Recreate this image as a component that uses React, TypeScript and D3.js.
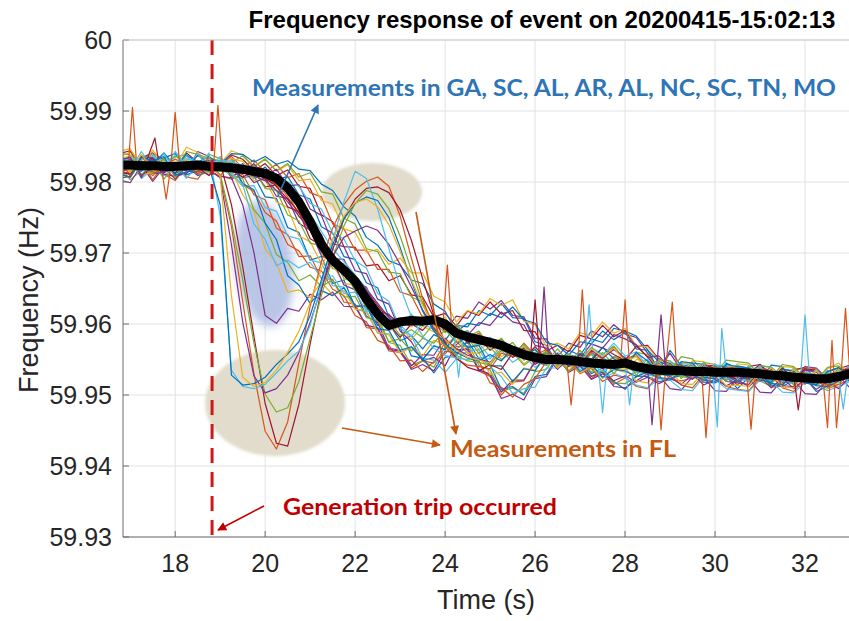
import React from 'react';
import * as d3 from 'd3';

// Sampling instants (s) shared by the per-station traces
const TIME = [
  16.75, 17.0, 17.25, 17.5, 17.75, 18.0, 18.25, 18.5, 18.75, 19.0, 19.25,
  19.5, 19.75, 20.0, 20.25, 20.5, 20.75, 21.0, 21.25, 21.5, 21.75, 22.0,
  22.25, 22.5, 22.75, 23.0, 23.25, 23.5, 23.75, 24.0, 24.25, 24.5, 24.75,
  25.0, 25.25, 25.5, 25.75, 26.0, 26.25, 26.5, 26.75, 27.0, 27.25, 27.5,
  27.75, 28.0, 28.25, 28.5, 28.75, 29.0, 29.25, 29.5, 29.75, 30.0, 30.25,
  30.5, 30.75, 31.0, 31.25, 31.5, 31.75, 32.0, 32.25, 32.5, 32.75, 33.0,
];

// Median frequency across all stations (Hz)
const MEDIAN = [
  59.9824, 59.9824, 59.9823, 59.9823, 59.9822, 59.9822, 59.9823, 59.9824, 59.9822, 59.9821, 59.9820,
  59.9818, 59.9815, 59.9812, 59.9805, 59.9792, 59.9772, 59.9744, 59.9712, 59.9690, 59.9676, 59.9660,
  59.9635, 59.9614, 59.9598, 59.9603, 59.9605, 59.9604, 59.9606, 59.9600, 59.9587, 59.9582, 59.9578,
  59.9574, 59.9570, 59.9563, 59.9557, 59.9553, 59.9550, 59.9550, 59.9549, 59.9547, 59.9545, 59.9544,
  59.9543, 59.9545, 59.9540, 59.9537, 59.9535, 59.9535, 59.9534, 59.9533, 59.9533, 59.9532, 59.9532,
  59.9532, 59.9531, 59.9530, 59.9528, 59.9527, 59.9525, 59.9524, 59.9523, 59.9523, 59.9526, 59.9530,
];

// Stations in GA, SC, AL, AR, NC, TN, MO
const M1 = [
  59.9838, 59.9829, 59.9811, 59.9817, 59.9834, 59.9840, 59.9822, 59.9809, 59.9815, 59.9831, 59.9822,
  59.9806, 59.9809, 59.9779, 59.9777, 59.9736, 59.9729, 59.9690, 59.9695, 59.9657, 59.9662, 59.9624,
  59.9626, 59.9598, 59.9601, 59.9576, 59.9584, 59.9565, 59.9585, 59.9577, 59.9598, 59.9596, 59.9619,
  59.9612, 59.9629, 59.9609, 59.9608, 59.9575, 59.9570, 59.9544, 59.9563, 59.9556, 59.9579, 59.9574,
  59.9594, 59.9590, 59.9583, 59.9564, 59.9534, 59.9563, 59.9541, 59.9543, 59.9522, 59.9524, 59.9545,
  59.9537, 59.9522, 59.9520, 59.9542, 59.9540, 59.9515, 59.9526, 59.9518, 59.9531, 59.9521, 59.9526,
];
const M2 = [
  59.9808, 59.9815, 59.9834, 59.9829, 59.9811, 59.9802, 59.9823, 59.9837, 59.9831, 59.9809, 59.9804,
  59.9811, 59.9782, 59.9775, 59.9735, 59.9726, 59.9695, 59.9696, 59.9664, 59.9663, 59.9631, 59.9628,
  59.9595, 59.9593, 59.9562, 59.9560, 59.9538, 59.9548, 59.9545, 59.9575, 59.9568, 59.9569, 59.9534,
  59.9526, 59.9500, 59.9518, 59.9520, 59.9549, 59.9547, 59.9556, 59.9534, 59.9544, 59.9523, 59.9534,
  59.9515, 59.9524, 59.9533, 59.9543, 59.9541, 59.9522, 59.9520, 59.9524, 59.9545, 59.9532, 59.9526,
  59.9514, 59.9533, 59.9536, 59.9511, 59.9513, 59.9533, 59.9523, 59.9516, 59.9526, 59.9529, 59.9520,
];
const M3 = [
  59.9835, 59.9842, 59.9820, 59.9813, 59.9819, 59.9832, 59.9825, 59.9813, 59.9834, 59.9828, 59.9812,
  59.9822, 59.9802, 59.9803, 59.9772, 59.9764, 59.9724, 59.9716, 59.9685, 59.9684, 59.9657, 59.9655,
  59.9622, 59.9618, 59.9591, 59.9596, 59.9578, 59.9597, 59.9589, 59.9600, 59.9577, 59.9585, 59.9564,
  59.9573, 59.9554, 59.9564, 59.9544, 59.9555, 59.9546, 59.9553, 59.9534, 59.9556, 59.9536, 59.9545,
  59.9538, 59.9536, 59.9546, 59.9533, 59.9543, 59.9547, 59.9529, 59.9531, 59.9537, 59.9543, 59.9528,
  59.9527, 59.9535, 59.9533, 59.9519, 59.9522, 59.9538, 59.9536, 59.9514, 59.9519, 59.9533, 59.9538,
];
const M4 = [
  59.9815, 59.9812, 59.9834, 59.9841, 59.9831, 59.9808, 59.9814, 59.9843, 59.9836, 59.9816, 59.9833,
  59.9812, 59.9824, 59.9802, 59.9808, 59.9784, 59.9778, 59.9741, 59.9726, 59.9692, 59.9691, 59.9660,
  59.9652, 59.9617, 59.9614, 59.9594, 59.9611, 59.9602, 59.9613, 59.9591, 59.9611, 59.9608, 59.9631,
  59.9621, 59.9633, 59.9612, 59.9610, 59.9580, 59.9579, 59.9554, 59.9573, 59.9567, 59.9590, 59.9582,
  59.9599, 59.9586, 59.9581, 59.9559, 59.9536, 59.9559, 59.9535, 59.9543, 59.9532, 59.9541, 59.9540,
  59.9538, 59.9531, 59.9543, 59.9529, 59.9526, 59.9520, 59.9540, 59.9538, 59.9522, 59.9530, 59.9541,
];
const M5 = [
  59.9824, 59.9803, 59.9816, 59.9833, 59.9825, 59.9813, 59.9820, 59.9818, 59.9815, 59.9822, 59.9814,
  59.9823, 59.9805, 59.9810, 59.9787, 59.9787, 59.9751, 59.9738, 59.9699, 59.9695, 59.9664, 59.9659,
  59.9621, 59.9611, 59.9574, 59.9570, 59.9542, 59.9548, 59.9539, 59.9568, 59.9565, 59.9574, 59.9542,
  59.9535, 59.9505, 59.9510, 59.9502, 59.9533, 59.9536, 59.9559, 59.9540, 59.9546, 59.9526, 59.9535,
  59.9517, 59.9516, 59.9525, 59.9536, 59.9535, 59.9528, 59.9526, 59.9523, 59.9533, 59.9530, 59.9521,
  59.9528, 59.9526, 59.9520, 59.9512, 59.9515, 59.9529, 59.9521, 59.9527, 59.9513, 59.9515, 59.9533,
];
const M6 = [
  59.9819, 59.9831, 59.9826, 59.9811, 59.9824, 59.9835, 59.9839, 59.9817, 59.9810, 59.9826, 59.9831,
  59.9814, 59.9821, 59.9803, 59.9809, 59.9782, 59.9773, 59.9732, 59.9720, 59.9687, 59.9685, 59.9653,
  59.9644, 59.9609, 59.9607, 59.9595, 59.9614, 59.9597, 59.9615, 59.9594, 59.9596, 59.9576, 59.9585,
  59.9568, 59.9578, 59.9556, 59.9563, 59.9546, 59.9556, 59.9545, 59.9553, 59.9543, 59.9551, 59.9540,
  59.9548, 59.9546, 59.9539, 59.9528, 59.9526, 59.9545, 59.9544, 59.9524, 59.9523, 59.9542, 59.9541,
  59.9524, 59.9521, 59.9542, 59.9539, 59.9519, 59.9516, 59.9536, 59.9533, 59.9514, 59.9525, 59.9534,
];
const M7 = [
  59.9840, 59.9844, 59.9819, 59.9837, 59.9815, 59.9820, 59.9841, 59.9828, 59.9819, 59.9821, 59.9838,
  59.9832, 59.9816, 59.9826, 59.9809, 59.9817, 59.9794, 59.9791, 59.9754, 59.9744, 59.9709, 59.9708,
  59.9682, 59.9684, 59.9661, 59.9668, 59.9641, 59.9638, 59.9610, 59.9615, 59.9597, 59.9618, 59.9612,
  59.9631, 59.9614, 59.9619, 59.9591, 59.9589, 59.9562, 59.9570, 59.9561, 59.9584, 59.9579, 59.9598,
  59.9582, 59.9591, 59.9568, 59.9570, 59.9551, 59.9544, 59.9532, 59.9533, 59.9542, 59.9541, 59.9532,
  59.9531, 59.9540, 59.9543, 59.9524, 59.9527, 59.9535, 59.9539, 59.9522, 59.9523, 59.9537, 59.9542,
];
const M8 = [
  59.9805, 59.9808, 59.9828, 59.9812, 59.9815, 59.9821, 59.9810, 59.9816, 59.9815, 59.9820, 59.9811,
  59.9826, 59.9809, 59.9821, 59.9803, 59.9808, 59.9782, 59.9776, 59.9737, 59.9728, 59.9695, 59.9691,
  59.9658, 59.9651, 59.9610, 59.9595, 59.9555, 59.9552, 59.9531, 59.9553, 59.9556, 59.9577, 59.9551,
  59.9543, 59.9508, 59.9512, 59.9500, 59.9526, 59.9529, 59.9555, 59.9544, 59.9552, 59.9530, 59.9538,
  59.9519, 59.9508, 59.9527, 59.9526, 59.9519, 59.9521, 59.9529, 59.9528, 59.9518, 59.9517, 59.9526,
  59.9509, 59.9525, 59.9528, 59.9514, 59.9512, 59.9521, 59.9524, 59.9505, 59.9512, 59.9520, 59.9529,
];
const M9 = [
  59.9827, 59.9830, 59.9822, 59.9809, 59.9824, 59.9832, 59.9826, 59.9817, 59.9819, 59.9825, 59.9836,
  59.9820, 59.9831, 59.9814, 59.9825, 59.9806, 59.9812, 59.9785, 59.9779, 59.9741, 59.9734, 59.9704,
  59.9704, 59.9677, 59.9677, 59.9645, 59.9640, 59.9609, 59.9611, 59.9590, 59.9598, 59.9579, 59.9587,
  59.9570, 59.9579, 59.9559, 59.9567, 59.9550, 59.9559, 59.9548, 59.9556, 59.9542, 59.9560, 59.9543,
  59.9553, 59.9549, 59.9542, 59.9538, 59.9546, 59.9543, 59.9535, 59.9533, 59.9541, 59.9540, 59.9531,
  59.9529, 59.9527, 59.9538, 59.9535, 59.9521, 59.9523, 59.9539, 59.9537, 59.9517, 59.9522, 59.9535,
];
const M10 = [
  59.9843, 59.9847, 59.9821, 59.9845, 59.9824, 59.9822, 59.9849, 59.9842, 59.9823, 59.9826, 59.9844,
  59.9838, 59.9822, 59.9833, 59.9815, 59.9824, 59.9802, 59.9804, 59.9774, 59.9769, 59.9734, 59.9729,
  59.9701, 59.9705, 59.9684, 59.9693, 59.9672, 59.9672, 59.9639, 59.9631, 59.9603, 59.9619, 59.9614,
  59.9636, 59.9626, 59.9634, 59.9604, 59.9599, 59.9568, 59.9573, 59.9565, 59.9588, 59.9583, 59.9603,
  59.9587, 59.9594, 59.9569, 59.9568, 59.9549, 59.9542, 59.9530, 59.9548, 59.9547, 59.9528, 59.9526,
  59.9544, 59.9542, 59.9523, 59.9522, 59.9540, 59.9539, 59.9520, 59.9519, 59.9537, 59.9545, 59.9528,
];
const M11 = [
  59.9803, 59.9799, 59.9824, 59.9801, 59.9821, 59.9804, 59.9823, 59.9812, 59.9816, 59.9808, 59.9806,
  59.9818, 59.9799, 59.9806, 59.9780, 59.9777, 59.9742, 59.9732, 59.9696, 59.9690, 59.9655, 59.9648,
  59.9611, 59.9602, 59.9566, 59.9563, 59.9536, 59.9543, 59.9534, 59.9562, 59.9559, 59.9567, 59.9536,
  59.9528, 59.9495, 59.9501, 59.9493, 59.9523, 59.9526, 59.9552, 59.9541, 59.9548, 59.9526, 59.9532,
  59.9512, 59.9510, 59.9520, 59.9530, 59.9528, 59.9509, 59.9507, 59.9526, 59.9525, 59.9506, 59.9505,
  59.9524, 59.9523, 59.9504, 59.9503, 59.9522, 59.9521, 59.9502, 59.9501, 59.9520, 59.9527, 59.9510,
];
const M12 = [
  59.9837, 59.9832, 59.9830, 59.9821, 59.9840, 59.9817, 59.9843, 59.9839, 59.9833, 59.9830, 59.9827,
  59.9837, 59.9821, 59.9832, 59.9816, 59.9826, 59.9807, 59.9813, 59.9786, 59.9783, 59.9749, 59.9741,
  59.9706, 59.9702, 59.9673, 59.9671, 59.9638, 59.9631, 59.9599, 59.9603, 59.9582, 59.9591, 59.9571,
  59.9581, 59.9563, 59.9574, 59.9554, 59.9565, 59.9547, 59.9565, 59.9545, 59.9563, 59.9543, 59.9560,
  59.9542, 59.9539, 59.9560, 59.9557, 59.9536, 59.9533, 59.9554, 59.9551, 59.9531, 59.9530, 59.9549,
  59.9547, 59.9545, 59.9528, 59.9525, 59.9543, 59.9540, 59.9523, 59.9521, 59.9539, 59.9541, 59.9529,
];
const M13 = [
  59.9826, 59.9831, 59.9805, 59.9818, 59.9809, 59.9821, 59.9815, 59.9819, 59.9813, 59.9817, 59.9811,
  59.9794, 59.9795, 59.9764, 59.9759, 59.9724, 59.9720, 59.9690, 59.9686, 59.9654, 59.9652, 59.9621,
  59.9617, 59.9587, 59.9586, 59.9561, 59.9567, 59.9550, 59.9570, 59.9564, 59.9583, 59.9566, 59.9573,
  59.9553, 59.9563, 59.9546, 59.9556, 59.9539, 59.9549, 59.9538, 59.9546, 59.9536, 59.9544, 59.9533,
  59.9542, 59.9540, 59.9532, 59.9530, 59.9537, 59.9535, 59.9527, 59.9525, 59.9539, 59.9532, 59.9523,
  59.9522, 59.9520, 59.9530, 59.9534, 59.9518, 59.9516, 59.9532, 59.9529, 59.9515, 59.9521, 59.9532,
];
const M14 = [
  59.9831, 59.9834, 59.9808, 59.9820, 59.9814, 59.9827, 59.9819, 59.9822, 59.9821, 59.9824, 59.9816,
  59.9807, 59.9815, 59.9793, 59.9796, 59.9765, 59.9758, 59.9720, 59.9711, 59.9682, 59.9682, 59.9650,
  59.9640, 59.9604, 59.9600, 59.9581, 59.9600, 59.9591, 59.9608, 59.9590, 59.9594, 59.9573, 59.9581,
  59.9563, 59.9573, 59.9553, 59.9561, 59.9543, 59.9554, 59.9542, 59.9550, 59.9540, 59.9548, 59.9537,
  59.9546, 59.9544, 59.9536, 59.9533, 59.9541, 59.9539, 59.9531, 59.9528, 59.9536, 59.9535, 59.9526,
  59.9525, 59.9523, 59.9533, 59.9531, 59.9521, 59.9519, 59.9535, 59.9533, 59.9517, 59.9524, 59.9535,
];
const M15 = [
  59.9829, 59.9818, 59.9836, 59.9825, 59.9841, 59.9822, 59.9838, 59.9828, 59.9836, 59.9825, 59.9840,
  59.9839, 59.9828, 59.9836, 59.9825, 59.9830, 59.9818, 59.9816, 59.9797, 59.9788, 59.9765, 59.9752,
  59.9722, 59.9711, 59.9689, 59.9683, 59.9662, 59.9657, 59.9628, 59.9618, 59.9589, 59.9601, 59.9598,
  59.9615, 59.9609, 59.9624, 59.9606, 59.9601, 59.9574, 59.9570, 59.9556, 59.9575, 59.9572, 59.9590,
  59.9578, 59.9588, 59.9565, 59.9563, 59.9547, 59.9541, 59.9529, 59.9545, 59.9543, 59.9527, 59.9525,
  59.9541, 59.9538, 59.9524, 59.9521, 59.9536, 59.9534, 59.9518, 59.9516, 59.9532, 59.9538, 59.9524,
];
const M16 = [
  59.9811, 59.9806, 59.9830, 59.9803, 59.9826, 59.9828, 59.9807, 59.9804, 59.9825, 59.9809, 59.9827,
  59.9796, 59.9787, 59.9757, 59.9745, 59.9712, 59.9703, 59.9680, 59.9675, 59.9649, 59.9640, 59.9612,
  59.9603, 59.9577, 59.9570, 59.9548, 59.9549, 59.9533, 59.9547, 59.9558, 59.9576, 59.9559, 59.9548,
  59.9517, 59.9511, 59.9497, 59.9515, 59.9523, 59.9547, 59.9542, 59.9548, 59.9530, 59.9538, 59.9519,
  59.9528, 59.9525, 59.9512, 59.9509, 59.9530, 59.9527, 59.9514, 59.9510, 59.9529, 59.9526, 59.9512,
  59.9508, 59.9506, 59.9524, 59.9527, 59.9510, 59.9505, 59.9523, 59.9521, 59.9509, 59.9515, 59.9522,
];
const M17 = [
  59.9822, 59.9815, 59.9837, 59.9811, 59.9830, 59.9816, 59.9834, 59.9814, 59.9829, 59.9818, 59.9833,
  59.9829, 59.9810, 59.9818, 59.9793, 59.9792, 59.9760, 59.9748, 59.9709, 59.9701, 59.9672, 59.9668,
  59.9629, 59.9620, 59.9592, 59.9609, 59.9596, 59.9612, 59.9594, 59.9610, 59.9581, 59.9590, 59.9569,
  59.9580, 59.9561, 59.9569, 59.9549, 59.9560, 59.9542, 59.9557, 59.9540, 59.9555, 59.9538, 59.9552,
  59.9536, 59.9532, 59.9550, 59.9548, 59.9529, 59.9527, 59.9545, 59.9543, 59.9525, 59.9523, 59.9541,
  59.9539, 59.9537, 59.9521, 59.9519, 59.9535, 59.9530, 59.9517, 59.9515, 59.9529, 59.9534, 59.9518,
];
const M18 = [
  59.9813, 59.9820, 59.9826, 59.9832, 59.9811, 59.9808, 59.9812, 59.9827, 59.9830, 59.9825, 59.9809,
  59.9813, 59.9826, 59.9808, 59.9818, 59.9795, 59.9796, 59.9762, 59.9753, 59.9713, 59.9709, 59.9675,
  59.9671, 59.9635, 59.9628, 59.9590, 59.9575, 59.9548, 59.9553, 59.9541, 59.9571, 59.9584, 59.9602,
  59.9598, 59.9617, 59.9603, 59.9599, 59.9570, 59.9566, 59.9545, 59.9557, 59.9552, 59.9572, 59.9566,
  59.9585, 59.9579, 59.9571, 59.9553, 59.9555, 59.9538, 59.9531, 59.9522, 59.9537, 59.9534, 59.9519,
  59.9517, 59.9515, 59.9535, 59.9533, 59.9513, 59.9512, 59.9530, 59.9528, 59.9510, 59.9519, 59.9526,
];
const M19 = [
  59.9841, 59.9838, 59.9826, 59.9840, 59.9823, 59.9837, 59.9825, 59.9822, 59.9839, 59.9833, 59.9823,
  59.9815, 59.9818, 59.9791, 59.9788, 59.9754, 59.9745, 59.9714, 59.9710, 59.9678, 59.9676, 59.9646,
  59.9638, 59.9612, 59.9606, 59.9584, 59.9592, 59.9581, 59.9601, 59.9588, 59.9600, 59.9582, 59.9590,
  59.9568, 59.9580, 59.9561, 59.9570, 59.9551, 59.9562, 59.9548, 59.9558, 59.9546, 59.9557, 59.9543,
  59.9554, 59.9552, 59.9541, 59.9539, 59.9550, 59.9548, 59.9536, 59.9533, 59.9546, 59.9543, 59.9531,
  59.9530, 59.9528, 59.9541, 59.9539, 59.9526, 59.9524, 59.9537, 59.9535, 59.9522, 59.9527, 59.9533,
];
const M20 = [
  59.9818, 59.9828, 59.9811, 59.9822, 59.9817, 59.9825, 59.9805, 59.9823, 59.9810, 59.9829, 59.9812,
  59.9822, 59.9818, 59.9816, 59.9811, 59.9800, 59.9794, 59.9770, 59.9762, 59.9728, 59.9720, 59.9689,
  59.9679, 59.9643, 59.9632, 59.9594, 59.9583, 59.9552, 59.9549, 59.9532, 59.9551, 59.9562, 59.9564,
  59.9540, 59.9526, 59.9502, 59.9509, 59.9511, 59.9538, 59.9538, 59.9556, 59.9539, 59.9544, 59.9524,
  59.9531, 59.9524, 59.9514, 59.9510, 59.9523, 59.9521, 59.9508, 59.9506, 59.9526, 59.9522, 59.9509,
  59.9507, 59.9505, 59.9521, 59.9519, 59.9504, 59.9503, 59.9518, 59.9516, 59.9506, 59.9512, 59.9519,
];

// Stations with an early, shallow dip right after the trip
const B1 = [
  59.9811, 59.9833, 59.9806, 59.9836, 59.9813, 59.9822, 59.9820, 59.9826, 59.9817, 59.9829, 59.9806,
  59.9768, 59.9701, 59.9612, 59.9601, 59.9622, 59.9618, 59.9642, 59.9634, 59.9645, 59.9625, 59.9624,
  59.9598, 59.9595, 59.9564, 59.9562, 59.9541, 59.9557, 59.9556, 59.9580, 59.9564, 59.9564, 59.9535,
  59.9530, 59.9504, 59.9521, 59.9521, 59.9547, 59.9542, 59.9552, 59.9532, 59.9541, 59.9522, 59.9530,
  59.9520, 59.9527, 59.9518, 59.9525, 59.9516, 59.9524, 59.9515, 59.9529, 59.9514, 59.9522, 59.9513,
  59.9521, 59.9512, 59.9526, 59.9510, 59.9524, 59.9509, 59.9523, 59.9508, 59.9518, 59.9509, 59.9526,
];
const B2 = [
  59.9832, 59.9837, 59.9810, 59.9814, 59.9821, 59.9825, 59.9819, 59.9816, 59.9813, 59.9823, 59.9817,
  59.9782, 59.9759, 59.9706, 59.9686, 59.9645, 59.9648, 59.9637, 59.9659, 59.9641, 59.9647, 59.9621,
  59.9619, 59.9588, 59.9585, 59.9559, 59.9567, 59.9555, 59.9577, 59.9571, 59.9582, 59.9559, 59.9559,
  59.9529, 59.9532, 59.9515, 59.9538, 59.9535, 59.9558, 59.9541, 59.9550, 59.9531, 59.9540, 59.9523,
  59.9540, 59.9538, 59.9520, 59.9517, 59.9536, 59.9535, 59.9516, 59.9515, 59.9533, 59.9532, 59.9513,
  59.9514, 59.9512, 59.9533, 59.9531, 59.9511, 59.9510, 59.9530, 59.9528, 59.9509, 59.9518, 59.9529,
];
const B3 = [
  59.9806, 59.9828, 59.9809, 59.9831, 59.9804, 59.9826, 59.9818, 59.9821, 59.9814, 59.9824, 59.9808,
  59.9805, 59.9761, 59.9742, 59.9698, 59.9687, 59.9661, 59.9669, 59.9653, 59.9662, 59.9638, 59.9639,
  59.9609, 59.9605, 59.9575, 59.9579, 59.9562, 59.9580, 59.9573, 59.9592, 59.9574, 59.9581, 59.9559,
  59.9567, 59.9550, 59.9560, 59.9542, 59.9553, 59.9542, 59.9551, 59.9533, 59.9552, 59.9532, 59.9549,
  59.9530, 59.9548, 59.9528, 59.9546, 59.9525, 59.9543, 59.9523, 59.9541, 59.9521, 59.9539, 59.9520,
  59.9538, 59.9518, 59.9536, 59.9516, 59.9534, 59.9514, 59.9532, 59.9513, 59.9531, 59.9520, 59.9537,
];
const B4 = [
  59.9836, 59.9824, 59.9815, 59.9831, 59.9823, 59.9812, 59.9819, 59.9838, 59.9825, 59.9818, 59.9828,
  59.9798, 59.9789, 59.9742, 59.9719, 59.9668, 59.9655, 59.9629, 59.9647, 59.9640, 59.9651, 59.9626,
  59.9625, 59.9593, 59.9591, 59.9563, 59.9568, 59.9550, 59.9569, 59.9564, 59.9585, 59.9567, 59.9570,
  59.9541, 59.9541, 59.9519, 59.9537, 59.9534, 59.9559, 59.9543, 59.9552, 59.9533, 59.9543, 59.9525,
  59.9536, 59.9534, 59.9526, 59.9532, 59.9524, 59.9523, 59.9531, 59.9529, 59.9521, 59.9519, 59.9528,
  59.9518, 59.9530, 59.9528, 59.9516, 59.9515, 59.9527, 59.9524, 59.9513, 59.9512, 59.9530, 59.9519,
];
const B5 = [
  59.9827, 59.9834, 59.9832, 59.9837, 59.9818, 59.9843, 59.9822, 59.9840, 59.9819, 59.9836, 59.9811,
  59.9797, 59.9741, 59.9719, 59.9682, 59.9690, 59.9679, 59.9687, 59.9665, 59.9668, 59.9643, 59.9645,
  59.9618, 59.9619, 59.9593, 59.9599, 59.9583, 59.9601, 59.9592, 59.9605, 59.9583, 59.9590, 59.9571,
  59.9581, 59.9562, 59.9569, 59.9549, 59.9560, 59.9543, 59.9560, 59.9541, 59.9558, 59.9538, 59.9555,
  59.9536, 59.9554, 59.9533, 59.9551, 59.9530, 59.9548, 59.9528, 59.9546, 59.9526, 59.9544, 59.9525,
  59.9542, 59.9523, 59.9540, 59.9520, 59.9538, 59.9519, 59.9536, 59.9517, 59.9535, 59.9525, 59.9542,
];

// Stations in FL: deep dip, then overshoot
const F1 = [
  59.9833, 59.9808, 59.9838, 59.9812, 59.9819, 59.9821, 59.9829, 59.9810, 59.9836, 59.9808, 59.9738,
  59.9632, 59.9530, 59.9449, 59.9424, 59.9462, 59.9545, 59.9625, 59.9688, 59.9735, 59.9768, 59.9789,
  59.9801, 59.9807, 59.9794, 59.9752, 59.9693, 59.9636, 59.9592, 59.9568, 59.9551, 59.9542, 59.9540,
  59.9537, 59.9559, 59.9554, 59.9573, 59.9556, 59.9564, 59.9543, 59.9553, 59.9542, 59.9560, 59.9551,
  59.9568, 59.9550, 59.9557, 59.9536, 59.9545, 59.9526, 59.9544, 59.9524, 59.9542, 59.9522, 59.9541,
  59.9520, 59.9539, 59.9519, 59.9537, 59.9517, 59.9535, 59.9515, 59.9534, 59.9514, 59.9533, 59.9522,
];
const F2 = [
  59.9814, 59.9811, 59.9837, 59.9833, 59.9821, 59.9813, 59.9830, 59.9820, 59.9809, 59.9827, 59.9768,
  59.9681, 59.9583, 59.9488, 59.9432, 59.9428, 59.9487, 59.9572, 59.9648, 59.9705, 59.9748, 59.9776,
  59.9791, 59.9793, 59.9785, 59.9761, 59.9718, 59.9664, 59.9612, 59.9574, 59.9552, 59.9539, 59.9534,
  59.9543, 59.9536, 59.9559, 59.9552, 59.9568, 59.9550, 59.9558, 59.9540, 59.9557, 59.9548, 59.9567,
  59.9557, 59.9549, 59.9569, 59.9554, 59.9533, 59.9532, 59.9542, 59.9529, 59.9543, 59.9537, 59.9527,
  59.9522, 59.9536, 59.9524, 59.9523, 59.9538, 59.9521, 59.9537, 59.9535, 59.9520, 59.9534, 59.9537,
];
const F3 = [
  59.9823, 59.9817, 59.9818, 59.9813, 59.9834, 59.9806, 59.9826, 59.9818, 59.9819, 59.9811, 59.9745,
  59.9662, 59.9573, 59.9501, 59.9476, 59.9482, 59.9519, 59.9580, 59.9640, 59.9693, 59.9738, 59.9770,
  59.9788, 59.9783, 59.9762, 59.9724, 59.9676, 59.9629, 59.9592, 59.9570, 59.9556, 59.9548, 59.9546,
  59.9542, 59.9563, 59.9556, 59.9572, 59.9553, 59.9560, 59.9540, 59.9557, 59.9548, 59.9567, 59.9557,
  59.9569, 59.9549, 59.9555, 59.9534, 59.9543, 59.9533, 59.9541, 59.9531, 59.9539, 59.9529, 59.9537,
  59.9527, 59.9535, 59.9525, 59.9539, 59.9523, 59.9537, 59.9521, 59.9535, 59.9519, 59.9537, 59.9525,
];
const F4 = [
  59.9830, 59.9835, 59.9809, 59.9822, 59.9814, 59.9819, 59.9825, 59.9824, 59.9817, 59.9806, 59.9712,
  59.9603, 59.9527, 59.9503, 59.9509, 59.9528, 59.9560, 59.9602, 59.9651, 59.9695, 59.9722, 59.9731,
  59.9738, 59.9732, 59.9712, 59.9684, 59.9652, 59.9620, 59.9594, 59.9577, 59.9565, 59.9556, 59.9551,
  59.9546, 59.9565, 59.9555, 59.9566, 59.9546, 59.9554, 59.9536, 59.9553, 59.9544, 59.9563, 59.9552,
  59.9564, 59.9552, 59.9544, 59.9532, 59.9542, 59.9539, 59.9531, 59.9529, 59.9537, 59.9535, 59.9527,
  59.9525, 59.9523, 59.9533, 59.9537, 59.9521, 59.9519, 59.9535, 59.9533, 59.9518, 59.9524, 59.9535,
];
const F5 = [
  59.9839, 59.9817, 59.9843, 59.9820, 59.9840, 59.9815, 59.9837, 59.9819, 59.9841, 59.9752, 59.9535,
  59.9512, 59.9509, 59.9515, 59.9531, 59.9548, 59.9562, 59.9598, 59.9655, 59.9718, 59.9772, 59.9815,
  59.9805, 59.9762, 59.9706, 59.9652, 59.9610, 59.9583, 59.9566, 59.9556, 59.9552, 59.9550, 59.9553,
  59.9551, 59.9570, 59.9559, 59.9569, 59.9549, 59.9557, 59.9539, 59.9556, 59.9547, 59.9566, 59.9556,
  59.9573, 59.9555, 59.9561, 59.9539, 59.9547, 59.9529, 59.9546, 59.9526, 59.9544, 59.9524, 59.9542,
  59.9522, 59.9541, 59.9521, 59.9539, 59.9519, 59.9537, 59.9518, 59.9536, 59.9516, 59.9534, 59.9524,
];
const F6 = [
  59.9812, 59.9807, 59.9835, 59.9830, 59.9836, 59.9810, 59.9814, 59.9819, 59.9822, 59.9768, 59.9528,
  59.9514, 59.9516, 59.9525, 59.9543, 59.9558, 59.9575, 59.9612, 59.9662, 59.9712, 59.9748, 59.9770,
  59.9779, 59.9774, 59.9750, 59.9708, 59.9660, 59.9618, 59.9590, 59.9572, 59.9560, 59.9552, 59.9548,
  59.9557, 59.9548, 59.9567, 59.9554, 59.9564, 59.9544, 59.9553, 59.9541, 59.9559, 59.9550, 59.9567,
  59.9551, 59.9540, 59.9560, 59.9548, 59.9530, 59.9527, 59.9547, 59.9545, 59.9525, 59.9523, 59.9543,
  59.9540, 59.9538, 59.9521, 59.9518, 59.9536, 59.9534, 59.9517, 59.9514, 59.9533, 59.9539, 59.9522,
];
const F7 = [
  59.9834, 59.9813, 59.9839, 59.9817, 59.9825, 59.9823, 59.9830, 59.9822, 59.9826, 59.9808, 59.9640,
  59.9525, 59.9512, 59.9518, 59.9535, 59.9560, 59.9590, 59.9630, 59.9678, 59.9720, 59.9752, 59.9771,
  59.9776, 59.9765, 59.9740, 59.9702, 59.9662, 59.9626, 59.9598, 59.9578, 59.9563, 59.9553, 59.9549,
  59.9545, 59.9565, 59.9556, 59.9569, 59.9549, 59.9557, 59.9538, 59.9555, 59.9546, 59.9565, 59.9554,
  59.9566, 59.9547, 59.9554, 59.9534, 59.9543, 59.9532, 59.9540, 59.9530, 59.9538, 59.9528, 59.9536,
  59.9526, 59.9534, 59.9524, 59.9538, 59.9522, 59.9536, 59.9520, 59.9534, 59.9519, 59.9536, 59.9524,
];

// Noisy stations with their own (irregular) timestamps: [time s, frequency Hz]
const NOISY_A: [number, number][] = [
  [16.75, 59.9822], [16.95, 59.9816], [17.05, 59.9905], [17.15, 59.9819], [17.45, 59.9827],
  [17.7, 59.9818], [17.8, 59.9776], [17.9, 59.9821], [18.0, 59.9898], [18.1, 59.9823],
  [18.4, 59.9816], [18.7, 59.9825], [18.85, 59.9819], [18.95, 59.9908], [19.05, 59.9822],
  [19.35, 59.9816], [19.7, 59.9813], [20.0, 59.9808], [20.4, 59.9788], [20.8, 59.9752],
  [21.2, 59.9712], [21.6, 59.9684], [22.0, 59.9662], [22.4, 59.9628], [22.8, 59.9600],
  [23.2, 59.9603], [23.6, 59.9600], [23.95, 59.9597], [24.05, 59.9683], [24.15, 59.9592],
  [24.5, 59.9582], [25.0, 59.9571], [25.5, 59.9560], [26.0, 59.9553], [26.4, 59.9549],
  [26.7, 59.9551], [26.8, 59.9486], [26.9, 59.9549], [26.95, 59.9547], [27.05, 59.9648],
  [27.15, 59.9546], [27.5, 59.9544], [27.9, 59.9546], [28.0, 59.9634], [28.1, 59.9543],
  [28.4, 59.9539], [28.7, 59.9537], [28.8, 59.9451], [28.9, 59.9536], [29.05, 59.9631],
  [29.15, 59.9534], [29.45, 59.9533], [29.7, 59.9533], [29.8, 59.9440], [29.9, 59.9532],
  [30.3, 59.9532], [30.7, 59.9531], [30.8, 59.9452], [30.9, 59.9530], [31.5, 59.9527],
  [32.0, 59.9524], [32.4, 59.9523], [32.5, 59.9454], [32.6, 59.9577], [32.7, 59.9454],
  [32.8, 59.9526], [32.9, 59.9622], [33.0, 59.9527],
];
const NOISY_B: [number, number][] = [
  [16.75, 59.9833], [17.1, 59.9828], [17.5, 59.9836], [17.9, 59.9826], [18.3, 59.9832],
  [18.7, 59.9827], [19.1, 59.9830], [19.5, 59.9824], [19.9, 59.9818], [20.3, 59.9806],
  [20.7, 59.9784], [21.1, 59.9745], [21.5, 59.9706], [21.9, 59.9677], [22.3, 59.9646],
  [22.7, 59.9612], [23.1, 59.9600], [23.5, 59.9604], [23.9, 59.9601], [24.2, 59.9584],
  [24.3, 59.9525], [24.4, 59.9581], [24.8, 59.9575], [25.3, 59.9568], [25.8, 59.9557],
  [26.3, 59.9551], [26.8, 59.9549], [27.1, 59.9548], [27.2, 59.9627], [27.3, 59.9546],
  [27.4, 59.9545], [27.5, 59.9475], [27.6, 59.9544], [28.0, 59.9545], [28.1, 59.9486],
  [28.2, 59.9542], [28.7, 59.9537], [29.3, 59.9535], [29.95, 59.9533], [30.05, 59.9455],
  [30.15, 59.9594], [30.25, 59.9532], [30.9, 59.9531], [31.5, 59.9528], [31.9, 59.9525],
  [32.0, 59.9613], [32.1, 59.9524], [32.5, 59.9523], [32.75, 59.9524], [32.85, 59.9480],
  [32.95, 59.9528], [33.0, 59.9530],
];
const NOISY_C: [number, number][] = [
  [16.75, 59.9815], [17.2, 59.9821], [17.6, 59.9812], [18.0, 59.9819], [18.4, 59.9814],
  [18.8, 59.9820], [19.2, 59.9817], [19.6, 59.9812], [20.0, 59.9802], [20.4, 59.9780],
  [20.8, 59.9748], [21.2, 59.9716], [21.6, 59.9690], [22.0, 59.9668], [22.4, 59.9637],
  [22.8, 59.9605], [23.2, 59.9598], [23.6, 59.9601], [24.0, 59.9596], [24.5, 59.9580],
  [25.0, 59.9569], [25.5, 59.9561], [25.9, 59.9555], [26.1, 59.9552], [26.2, 59.9652],
  [26.3, 59.9550], [26.8, 59.9548], [27.4, 59.9545], [28.0, 59.9542], [28.5, 59.9538],
  [28.6, 59.9458], [28.7, 59.9537], [28.8, 59.9613], [28.9, 59.9536], [29.5, 59.9534],
  [30.2, 59.9532], [30.9, 59.9530], [31.6, 59.9527], [32.3, 59.9524], [33.0, 59.9526],
];
const NOISY_D: [number, number][] = [
  [16.75, 59.9828], [17.3, 59.9819], [17.55, 59.9862], [17.65, 59.9821], [18.2, 59.9826],
  [18.6, 59.9817], [19.0, 59.9824], [19.4, 59.9819], [19.8, 59.9812], [20.2, 59.9797],
  [20.6, 59.9769], [21.0, 59.9736], [21.4, 59.9701], [21.8, 59.9678], [22.2, 59.9650],
  [22.6, 59.9618], [23.0, 59.9602], [23.4, 59.9606], [23.8, 59.9602], [24.3, 59.9585],
  [24.8, 59.9574], [25.4, 59.9563], [25.9, 59.9555], [26.0, 59.9634], [26.1, 59.9553],
  [26.6, 59.9550], [27.3, 59.9546], [27.9, 59.9544], [28.5, 59.9539], [29.2, 59.9535],
  [29.9, 59.9533], [30.6, 59.9531], [31.3, 59.9529], [31.75, 59.9527], [31.85, 59.9479],
  [31.95, 59.9526], [32.6, 59.9524], [33.0, 59.9527],
];

const MAIN_GROUP = [M1, M2, M3, M4, M5, M6, M7, M8, M9, M10, M11, M12, M13, M14, M15, M16, M17, M18, M19, M20];
const DIP_GROUP = [B1, B2, B3, B4, B5];
const FL_GROUP = [F1, F2, F3, F4, F5, F6, F7];
const NOISY_GROUP = [NOISY_A, NOISY_B, NOISY_C, NOISY_D];

const X_TICKS = [18, 20, 22, 24, 26, 28, 30, 32];
const Y_TICKS = [59.93, 59.94, 59.95, 59.96, 59.97, 59.98, 59.99, 60];
const Y_LABELS = ['59.93', '59.94', '59.95', '59.96', '59.97', '59.98', '59.99', '60'];
const TRIP_TIME = 18.82;

// Default MATLAB line colour order
const PALETTE = ['#0072BD', '#D95319', '#EDB120', '#7E2F8E', '#77AC30', '#4DBEEE', '#A2142F'];
const DIP_COLORS = [3, 2, 4, 0, 5];
const FL_COLORS = [1, 6, 4, 3, 5, 0, 2];
const NOISY_COLORS = [1, 5, 3, 6];

const W = 849;
const H = 621;
const PLOT = { left: 123, right: 850, top: 40, bottom: 537 };
const AXIS_FONT = '"Liberation Sans", Arial, Helvetica, sans-serif';
const NOTE_FONT = 'Lato, "Open Sans", sans-serif';

export default function App() {
  const x = d3.scaleLinear().domain([16.84, 33]).range([PLOT.left, PLOT.right]);
  const y = d3.scaleLinear().domain([59.93, 60]).range([PLOT.bottom, PLOT.top]);

  const gridLine = d3
    .line<number>()
    .x((_, i) => x(TIME[i]))
    .y((d) => y(d));
  const pairLine = d3
    .line<[number, number]>()
    .x((d) => x(d[0]))
    .y((d) => y(d[1]));

  const arrows = [
    { id: 'ah-blue', color: '#2E75B6' },
    { id: 'ah-orange', color: '#C55A11' },
    { id: 'ah-red', color: '#C00000' },
  ];

  return (
    <svg
      width={W}
      height={H}
      viewBox={`0 0 ${W} ${H}`}
      style={{ position: 'absolute', left: 0, top: 0, background: '#fff' }}
    >
      <defs>
        <clipPath id="plot-clip">
          <rect x={PLOT.left} y={PLOT.top} width={PLOT.right - PLOT.left} height={PLOT.bottom - PLOT.top} />
        </clipPath>
        <filter id="soft-blue" x="-50%" y="-50%" width="200%" height="200%">
          <feGaussianBlur stdDeviation="4" />
        </filter>
        <filter id="soft-tan" x="-20%" y="-20%" width="140%" height="140%">
          <feGaussianBlur stdDeviation="1.5" />
        </filter>
        {arrows.map((a) => (
          <marker
            key={a.id}
            id={a.id}
            viewBox="0 0 10 10"
            refX="9"
            refY="5"
            markerWidth="11"
            markerHeight="9"
            markerUnits="userSpaceOnUse"
            orient="auto"
          >
            <path d="M0,0 L10,5 L0,10 z" fill={a.color} />
          </marker>
        ))}
      </defs>

      <rect x={0} y={0} width={W} height={H} fill="#fff" />

      {/* grid */}
      <g stroke="#e2e2e2" strokeWidth={1}>
        {X_TICKS.map((t) => (
          <line key={`gx${t}`} x1={x(t)} x2={x(t)} y1={PLOT.top} y2={PLOT.bottom} />
        ))}
        {Y_TICKS.map((v) => (
          <line key={`gy${v}`} x1={PLOT.left} x2={PLOT.right} y1={y(v)} y2={y(v)} />
        ))}
      </g>

      {/* highlight regions */}
      <g>
        <ellipse
          cx={264}
          cy={264}
          rx={29}
          ry={63}
          transform="rotate(-7 264 264)"
          fill="#a9b8e0"
          opacity={0.8}
          filter="url(#soft-blue)"
        />
        <ellipse cx={372} cy={192} rx={50} ry={29} fill="#e1dccb" filter="url(#soft-tan)" />
        <ellipse cx={275} cy={403} rx={70} ry={53} fill="#e1dccb" filter="url(#soft-tan)" />
      </g>

      {/* station traces */}
      <g clipPath="url(#plot-clip)" fill="none" strokeWidth={1.2} strokeLinejoin="round">
        {MAIN_GROUP.map((s, i) => (
          <path key={`m${i}`} d={gridLine(s) ?? ''} stroke={PALETTE[i % PALETTE.length]} />
        ))}
        {DIP_GROUP.map((s, i) => (
          <path key={`b${i}`} d={gridLine(s) ?? ''} stroke={PALETTE[DIP_COLORS[i]]} />
        ))}
        {NOISY_GROUP.map((s, i) => (
          <path key={`n${i}`} d={pairLine(s) ?? ''} stroke={PALETTE[NOISY_COLORS[i]]} />
        ))}
        {FL_GROUP.map((s, i) => (
          <path key={`f${i}`} d={gridLine(s) ?? ''} stroke={PALETTE[FL_COLORS[i]]} />
        ))}
        <path d={gridLine(MEDIAN) ?? ''} stroke="#000" strokeWidth={9} strokeLinecap="round" />
      </g>

      {/* trip instant */}
      <line
        x1={x(TRIP_TIME)}
        x2={x(TRIP_TIME)}
        y1={PLOT.top}
        y2={PLOT.bottom}
        stroke="#D01818"
        strokeWidth={3}
        strokeDasharray="15 9"
      />

      {/* axes box and ticks */}
      <g stroke="#6e6e6e" strokeWidth={1} fill="none">
        <line x1={PLOT.left} x2={PLOT.left} y1={PLOT.top} y2={PLOT.bottom} />
        <line x1={PLOT.left} x2={PLOT.right} y1={PLOT.bottom} y2={PLOT.bottom} />
        {X_TICKS.map((t) => (
          <line key={`tx${t}`} x1={x(t)} x2={x(t)} y1={PLOT.bottom} y2={PLOT.bottom - 6} />
        ))}
        {Y_TICKS.map((v) => (
          <line key={`ty${v}`} x1={PLOT.left} x2={PLOT.left + 6} y1={y(v)} y2={y(v)} />
        ))}
      </g>
      <line x1={PLOT.left} x2={PLOT.right} y1={PLOT.top} y2={PLOT.top} stroke="#c9c9c9" strokeWidth={1} />

      <g fontFamily={AXIS_FONT} fill="#262626">
        {X_TICKS.map((t) => (
          <text key={`lx${t}`} x={x(t)} y={572} fontSize={25} textAnchor="middle">
            {t}
          </text>
        ))}
        {Y_TICKS.map((v, i) => (
          <text key={`ly${v}`} x={112} y={y(v)} dy="0.36em" fontSize={25} textAnchor="end">
            {Y_LABELS[i]}
          </text>
        ))}
        <text x={486} y={609} fontSize={27} textAnchor="middle">
          Time (s)
        </text>
        <text transform="translate(38 300) rotate(-90)" fontSize={27} textAnchor="middle">
          Frequency (Hz)
        </text>
        <text x={542} y={28} fontSize={24} fontWeight="bold" textAnchor="middle" fill="#000">
          Frequency response of event on 20200415-15:02:13
        </text>
      </g>

      {/* annotations */}
      <g fontFamily={NOTE_FONT} fontWeight="bold" fontSize={23}>
        <text x={252} y={96} fill="#2E75B6" textLength={584} lengthAdjust="spacingAndGlyphs">
          Measurements in GA, SC, AL, AR, AL, NC, SC, TN, MO
        </text>
        <text x={450} y={457} fill="#C55A11" textLength={226} lengthAdjust="spacingAndGlyphs">
          Measurements in FL
        </text>
        <text x={283} y={515} fill="#C00000" textLength={274} lengthAdjust="spacingAndGlyphs">
          Generation trip occurred
        </text>
      </g>
      <g fill="none" strokeWidth={1.6}>
        <line x1={278} y1={196} x2={318} y2={105} stroke="#2E75B6" markerEnd="url(#ah-blue)" />
        <line x1={342} y1={428} x2={440} y2={445} stroke="#C55A11" markerEnd="url(#ah-orange)" />
        <line x1={416} y1={212} x2={456} y2={434} stroke="#C55A11" markerEnd="url(#ah-orange)" />
        <line x1={264} y1={506} x2={218} y2={530} stroke="#C00000" markerEnd="url(#ah-red)" />
      </g>
    </svg>
  );
}
